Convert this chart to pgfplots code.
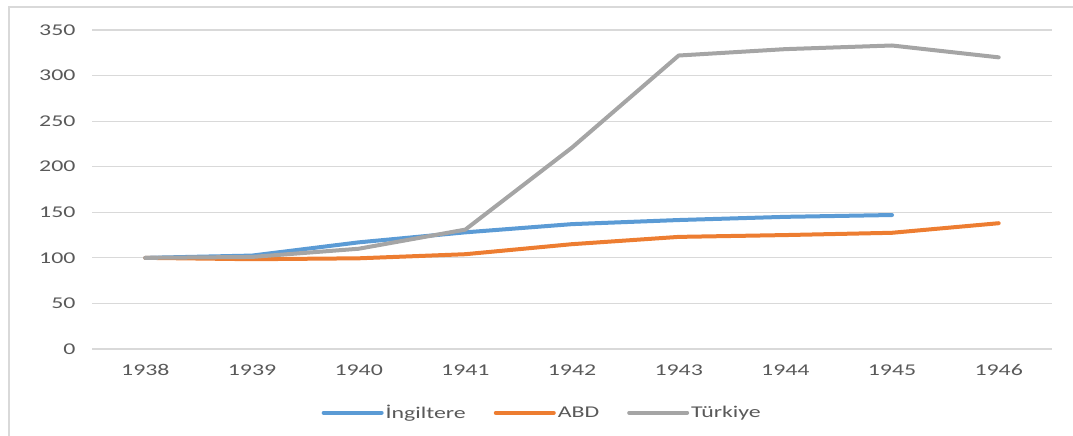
\documentclass[border=0pt]{standalone}
\usepackage{fontspec}
\setmainfont{Carlito}[FakeStretch=1.45]
\usepackage{pgfplots}
\pgfplotsset{compat=1.18}
\definecolor{cblue}{HTML}{5B9BD5}
\definecolor{corange}{HTML}{ED7D31}
\definecolor{cgray}{HTML}{A5A5A5}
\definecolor{ctext}{HTML}{595959}
\definecolor{cgrid}{HTML}{D9D9D9}
\begin{document}
\begin{tikzpicture}
\path[use as bounding box] (0,0) rectangle (1073bp,436bp);
\draw[color=cgrid, line width=1.5bp] (9bp,0) -- (9bp,429bp) -- (1073bp,429bp);
\begin{axis}[
  at={(92bp,87bp)}, anchor=south west,
  scale only axis, width=960bp, height=319bp,
  xmin=-0.5, xmax=8.5, ymin=0, ymax=350,
  xtick={0,...,8},
  xticklabels={1938,1939,1940,1941,1942,1943,1944,1945,1946},
  ytick={0,50,...,350},
  ymajorgrids, grid style={color=cgrid, line width=1.2bp},
  axis line style={draw=none},
  major tick style={draw=none},
  /pgf/number format/assume math mode=true,
  tick label style={font=\fontsize{16.5}{19}\selectfont, text=ctext},
  y tick label style={xshift=-13bp},
  x tick label style={yshift=-12bp},
  legend style={at={(0.469,-0.2)}, anchor=center, draw=none, fill=none,
    legend columns=3, font=\fontsize{16.5}{19}\selectfont, text=ctext,
    /tikz/every even column/.append style={column sep=26bp}},
  legend image code/.code={\draw[#1, line cap=round] (0bp,0bp) -- (58bp,0bp);},
  every axis plot/.append style={line width=4bp, line join=round, line cap=round},
]
\addplot[cblue] coordinates {(0,100) (1,102.5) (2,117) (3,128) (4,137) (5,141.5) (6,145) (7,147)};
\addlegendentry{İngiltere}
\addplot[corange] coordinates {(0,100) (1,98.5) (2,99.5) (3,104) (4,115) (5,123) (6,125) (7,127.5) (8,138)};
\addlegendentry{ABD}
\addplot[cgray] coordinates {(0,100) (1,101) (2,110) (3,131) (4,221) (5,322) (6,329) (7,333) (8,320)};
\addlegendentry{Türkiye}
\end{axis}
\end{tikzpicture}
\end{document}
